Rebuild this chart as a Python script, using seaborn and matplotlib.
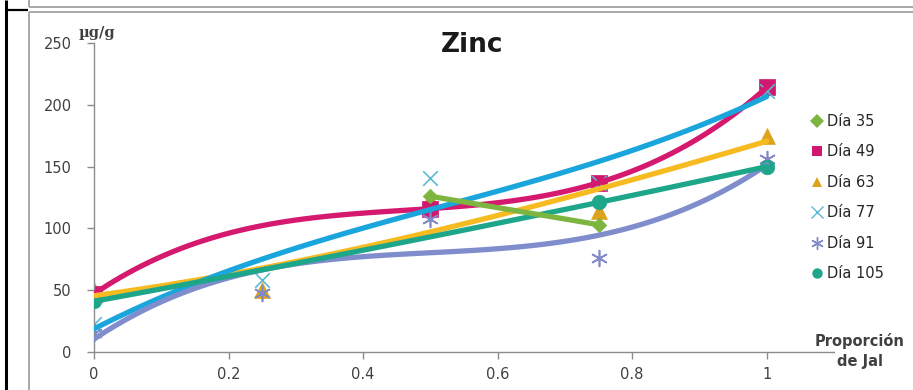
import numpy as np
import matplotlib
matplotlib.use("Agg")
import matplotlib.pyplot as plt
from matplotlib.lines import Line2D
import seaborn as sns

# --- data: zinc concentration (µg/g) vs tailings proportion, by day ---
dia35_x = [0.5, 0.75]
dia35_y = [126, 103]

dia49_x = [0, 0.5, 0.75, 1]
dia49_y = [47, 116, 137, 214]

dia63_x = [0, 0.25, 0.5, 0.75, 1]
dia63_y = [50, 50, 124, 114, 175]

dia77_x = [0, 0.25, 0.5, 0.75, 1]
dia77_y = [23, 58, 141, 137, 211]

dia91_x = [0, 0.25, 0.5, 0.75, 1]
dia91_y = [15, 48, 108, 76, 156]

dia105_x = [0, 0.75, 1]
dia105_y = [41, 121, 150]

x_ticks = [0, 0.2, 0.4, 0.6, 0.8, 1]
x_tick_labels = ["0", "0.2", "0.4", "0.6", "0.8", "1"]
y_ticks = [0, 50, 100, 150, 200, 250]

W, H = 913, 390
sns.set_style("ticks")
plt.rcParams["font.family"] = ["DejaVu Sans"]

fig = plt.figure(figsize=(W / 100, H / 100), dpi=100)
fig.patch.set_facecolor("white")
ax = fig.add_axes([94 / W, 1 - 352 / H, (834 - 94) / W, (352 - 43) / H])

# series: (label, x, y, marker, size, marker colour, line colour, trend order, marker zorder)
series = [
    ("Día 35", dia35_x, dia35_y, "D", 55, "#7CB53F", "#7CB53F", 1, 2.3),
    ("Día 49", dia49_x, dia49_y, "s", 120, "#D0186E", "#D4196F", 3, 2.2),
    ("Día 63", dia63_x, dia63_y, "^", 130, "#DDA31C", "#F7BB22", 3, 2.0),
    ("Día 77", dia77_x, dia77_y, "x", 110, "#5DB9D2", "#1AA5DC", 3, 2.4),
    ("Día 91", dia91_x, dia91_y, (6, 2, 0), 130, "#8089C8", "#7F8DCD", 3, 2.5),
    ("Día 105", dia105_x, dia105_y, "o", 110, "#1EA68A", "#1EA68A", 2, 2.6),
]

handles = []
for i, (label, xs, ys, mk, size, mcol, lcol, order, mz) in enumerate(series):
    filled = mk in ("D", "s", "^", "o")
    kws = dict(x=xs, y=ys, marker=mk, s=size, color=mcol, ax=ax, zorder=mz)
    if filled:
        kws.update(edgecolor=mcol, linewidth=0.5)
    else:
        kws.update(linewidth=1.2)
    sns.scatterplot(**kws)
    sns.regplot(x=np.array(xs), y=np.array(ys), order=order, ci=None, scatter=False,
                truncate=True, ax=ax, color=lcol,
                line_kws=dict(lw=3.8, solid_capstyle="round",
                              zorder=(6 if label == "Día 35" else 3 + i * 0.01)))
    if filled:
        h = Line2D([], [], ls="none", marker=mk, color=mcol, markersize=7.5,
                   markeredgewidth=0)
    else:
        h = Line2D([], [], ls="none", marker=mk, color=mcol, markersize=9,
                   markeredgewidth=1.0)
    handles.append((h, label))

ax.set_xlim(0, 1.1)
ax.set_ylim(0, 250)
ax.set_xticks(x_ticks)
ax.set_xticklabels(x_tick_labels)
ax.set_yticks(y_ticks)
ax.set_xlabel("")
ax.set_ylabel("")
sns.despine(ax=ax)
for side in ("left", "bottom"):
    ax.spines[side].set_color("#8C8C8C")
    ax.spines[side].set_linewidth(1.0)
ax.tick_params(axis="both", colors="#8C8C8C", labelcolor="#404040",
               labelsize=10.5, length=5, width=1.0)
ax.tick_params(axis="y", pad=11)
ax.tick_params(axis="x", pad=6)

# titles and axis captions
fig.text(472 / W, 1 - 45 / H, "Zinc", ha="center", va="center",
         fontsize=19, fontweight="bold", color="#1A1A1A")
fig.text(79 / W, 1 - 33 / H, "µg/g", ha="left", va="center",
         fontsize=10.5, fontweight="bold", family="DejaVu Serif", color="#404040")
fig.text(860 / W, 1 - 351 / H, "Proporción\nde Jal", ha="center", va="center",
         fontsize=10.5, fontweight="bold", color="#404040", linespacing=1.35)

# legend
fig.legend([h for h, _ in handles], [l for _, l in handles],
           loc="upper left", bbox_to_anchor=(811 / W, 1 - 114 / H),
           frameon=False, fontsize=10.5, handlelength=0.8, handletextpad=0.3,
           labelspacing=1.06, borderaxespad=0, borderpad=0, labelcolor="#262626")

# page frame around the chart
def fline(x0, y0, x1, y1, color, lw):
    fig.add_artist(Line2D([x0 / W, x1 / W], [1 - y0 / H, 1 - y1 / H],
                          transform=fig.transFigure, color=color, lw=lw,
                          solid_capstyle="butt"))

fline(6, 0, 6, H, "#000000", 2.2)
fline(6, 10, 28, 10, "#000000", 1.6)
fline(29, 0, 29, 7, "#9A9A9A", 1.2)
fline(29, 7, W, 7, "#9A9A9A", 1.2)
fline(29, 12, W, 12, "#9A9A9A", 1.2)
fline(29, 12, 29, H, "#9A9A9A", 1.2)

fig.savefig("out.png", dpi=100, facecolor="white")
